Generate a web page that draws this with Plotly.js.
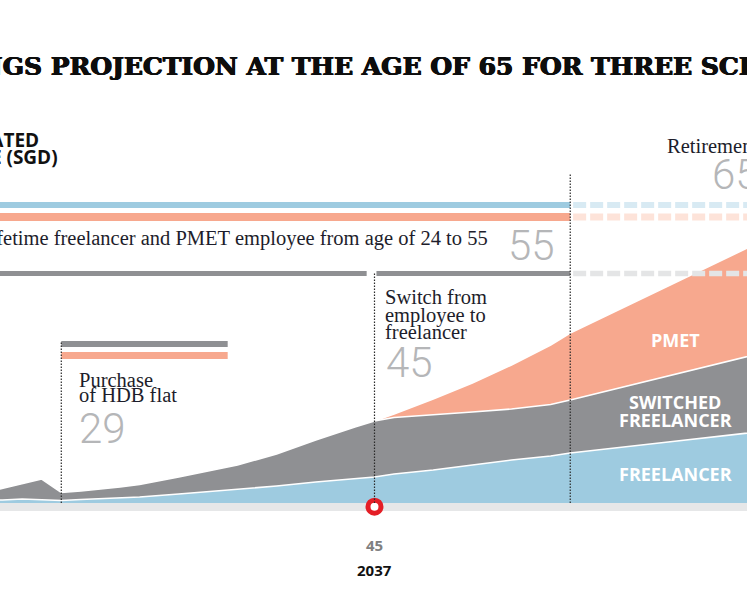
<!DOCTYPE html>
<html>
<head>
<meta charset="utf-8">
<script src="https://cdn.plot.ly/plotly-3.0.1.min.js"></script>
<style>
  html, body { margin: 0; padding: 0; background: #fff; }
  #chart { width: 747px; height: 598px; }
</style>
</head>
<body>
<div id="chart"></div>
<script>
// Age of the worker (years)
const ages = [25, 26, 27, 28, 29, 30, 32, 33, 35, 37, 38, 40, 42, 44, 45, 46, 48, 50, 52, 54, 55, 60, 64, 65];

// Estimated monthly earnings (SGD) for each scenario
const freelancer = [150, 150, 200, 150, 125, 175, 275, 300, 450, 600, 675, 850, 1050, 1200, 1300, 1450, 1650, 1900, 2150, 2350, 2500, 3050, 3500, 3600];
const switchedFreelancer = [500, 725, 950, 1200, 525, 600, 800, 925, 1300, 1675, 1900, 2450, 3150, 3800, 4100, 4275, 4400, 4550, 4700, 4925, 5150, 6350, 7300, 7550];
const pmet = [500, 725, 950, 1200, 525, 600, 800, 925, 1300, 1675, 1900, 2450, 3150, 3800, 4100, 4450, 5200, 6000, 6900, 7900, 8500, 10850, 12700, 13200];

// Milestone ages
const hdbAge = 29;
const switchAge = 45;
const endAge = 55;
const retireAge = 65;
const startAge = 24;
const switchYear = 2037;

const scenarioLabels = ['PMET', 'SWITCHED', 'FREELANCER', 'FREELANCER'];

const W = 747, H = 598;
const M = { l: 0, r: 0, t: 103, b: 87 };
const plotH = H - M.t - M.b;
const xRange = [25.869, 64.03];
const yRange = [-400, 20000];

// page-pixel helpers for free-floating text
const px = v => v / W;
const py = v => (H - M.b - v) / plotH;

const C = {
  blue: '#9ecbe0', salmon: '#f7a88e', gray: '#8f9093',
  blueLt: '#d8eaf3', salmonLt: '#fde3d9', grayLt: '#e4e5e6',
  band: '#e6e7e8', red: '#e41e26', ink: '#1d1d2b', num: '#b5b6b8'
};

const area = (y, color) => ({
  type: 'scatter', mode: 'lines', x: ages, y: y,
  fill: 'tozeroy', fillcolor: color,
  line: { color: '#ffffff', width: 1.6 },
  hoverinfo: 'skip', showlegend: false
});

const traces = [
  area(pmet, C.salmon),
  area(switchedFreelancer, C.gray),
  area(freelancer, C.blue),
  {
    type: 'scatter', mode: 'markers', x: [switchAge], y: [-185],
    marker: { size: 13, color: '#ffffff', line: { color: C.red, width: 5 } },
    cliponaxis: false, hoverinfo: 'skip', showlegend: false
  }
];

const rect = (x0, x1, y0, y1, c) => ({
  type: 'rect', xref: 'x', yref: 'y', x0, x1, y0, y1,
  fillcolor: c, line: { width: 0 }, layer: 'above'
});
const dashed = (x0, x1, y, w, c) => ({
  type: 'line', xref: 'x', yref: 'y', x0, x1, y0: y, y1: y,
  line: { color: c, width: w, dash: '13px,4px' }, layer: 'above'
});
const dotted = (x, top) => ({
  type: 'line', xref: 'x', yref: 'y', x0: x, x1: x, y0: 0, y1: top,
  line: { color: '#2a2a2a', width: 1.2, dash: '1.5px,1.5px' }, layer: 'above'
});

const shapes = [
  // baseline band
  { type: 'rect', xref: 'paper', yref: 'y', x0: 0, x1: 1, y0: -400, y1: 0, fillcolor: C.band, line: { width: 0 }, layer: 'below' },
  // scenario bars up to 55
  rect(startAge, endAge, 14750, 15050, C.blue),
  rect(startAge, endAge, 14100, 14500, C.salmon),
  rect(startAge, switchAge - 0.4, 11350, 11600, C.gray),
  rect(switchAge + 0.1, endAge, 11350, 11600, C.gray),
  // continuation to retirement
  dashed(endAge + 0.15, retireAge + 1, 14900, 6, C.blueLt),
  dashed(endAge + 0.15, retireAge + 1, 14300, 7, C.salmonLt),
  dashed(endAge + 0.15, retireAge + 1, 11475, 5.5, C.grayLt),
  // HDB purchase bars
  rect(hdbAge, 37.5, 7800, 8100, C.gray),
  rect(hdbAge, 37.5, 7200, 7550, C.salmon),
  // milestone markers
  dotted(endAge, 16500),
  dotted(switchAge, 11550),
  dotted(hdbAge, 8100)
];

// place the partly-visible headline using measured glyph widths
const titleFont = {
  family: 'DejaVu Serif', size: 25, weight: 700, color: '#0d0d0d',
  shadow: '0.6px 0 0 #0d0d0d, -0.6px 0 0 #0d0d0d, 0 0.4px 0 #0d0d0d'
};
const titleText = 'EARNINGS PROJECTION AT THE AGE OF 65 FOR THREE SCENARIOS';
const ctx = document.createElement('canvas').getContext('2d');
ctx.font = "bold 25px 'DejaVu Serif'";
const titleLeft = 51 - ctx.measureText('EARNINGS ').width - 2;

const serif = { family: 'Liberation Serif', size: 20.5, color: C.ink };
const big = { family: 'Roboto', size: 42, weight: 300, color: C.num };
const sansW = { family: 'Open Sans', size: 18, weight: 700, color: '#ffffff' };
const sansK = { family: 'Open Sans', size: 19, weight: 700, color: '#111111' };

const note = (text, x, y, xanchor, font) => ({
  text, x: px(x), y: py(y), xref: 'paper', yref: 'paper',
  xanchor, yanchor: 'middle', showarrow: false, font
});

const annotations = [
  note(titleText, titleLeft, 66.7, 'left', titleFont),
  note('ESTIMATED', 41, 139.5, 'right', sansK),
  note('INCOME (SGD)', 60, 156.5, 'right', sansK),
  note('Lifetime freelancer and PMET employee from age of ' + startAge + ' to ' + endAge, 490, 238.5, 'right', serif),
  note(String(endAge), 557, 245, 'right', big),
  note('Switch from', 383, 296.5, 'left', serif),
  note('employee to', 383, 315, 'left', serif),
  note('freelancer', 383, 331.8, 'left', serif),
  note(String(switchAge), 384, 362, 'left', big),
  note('Purchase', 77, 379.5, 'left', serif),
  note('of HDB flat', 77, 395.2, 'left', serif),
  note(String(hdbAge), 77, 428, 'left', big),
  note('Retirement', 665, 145.5, 'left', serif),
  note(String(retireAge), 710, 174, 'left', big),
  note(scenarioLabels[0], 675, 340, 'center', sansW),
  note(scenarioLabels[1], 675, 401.7, 'center', sansW),
  note(scenarioLabels[2], 675, 419.5, 'center', sansW),
  note(scenarioLabels[3], 675, 474, 'center', sansW),
  // axis label for the switch age
  { text: String(switchAge), x: switchAge, xref: 'x', y: py(544.5), yref: 'paper', xanchor: 'center', yanchor: 'middle', showarrow: false,
    font: { family: 'Open Sans', size: 15, weight: 700, color: '#808080' } },
  { text: String(switchYear), x: switchAge, xref: 'x', y: py(570), yref: 'paper', xanchor: 'center', yanchor: 'middle', showarrow: false,
    font: { family: 'Open Sans', size: 15, weight: 700, color: '#111111' } }
];

const layout = {
  width: W, height: H, margin: M,
  paper_bgcolor: '#ffffff', plot_bgcolor: '#ffffff',
  showlegend: false,
  xaxis: { range: xRange, showgrid: false, zeroline: false, showticklabels: false, ticks: '', showline: false, fixedrange: true },
  yaxis: { range: yRange, showgrid: false, zeroline: false, showticklabels: false, ticks: '', showline: false, fixedrange: true },
  shapes, annotations
};

Plotly.newPlot('chart', traces, layout, { staticPlot: true, displayModeBar: false });
</script>
</body>
</html>
